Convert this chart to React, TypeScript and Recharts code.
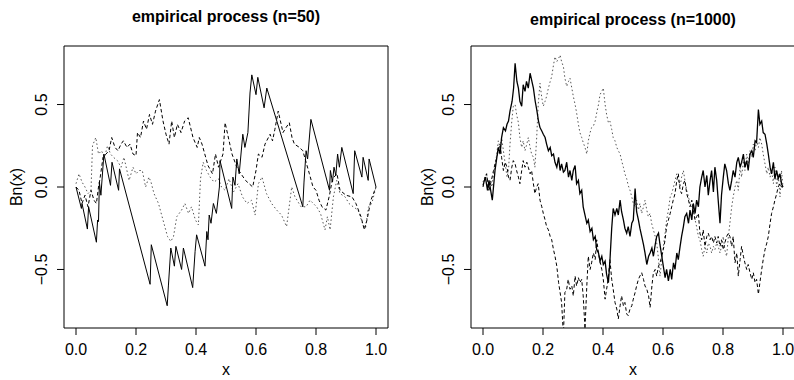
import React from "react";
import { LineChart, Line, XAxis, YAxis, ReferenceArea } from "recharts";

type Pt = [number, number];

// axis setup shared by both panels
const xTicks = [0, 0.2, 0.4, 0.6, 0.8, 1.0];
const yTicks = [-0.5, 0, 0.5];
const xDomain: [number, number] = [-0.04, 1.04];
const yDomain: [number, number] = [-0.855, 0.855];
const titles = ["empirical process (n=50)", "empirical process (n=1000)"];

// n = 50 panel
const solid50: Pt[] = [
  [0, 0], [0.018, -0.13], [0.02, -0.1], [0.038, -0.255], [0.042, -0.12], [0.068, -0.335],
  [0.072, -0.2], [0.075, -0.21], [0.078, 0.03], [0.083, -0.05], [0.093, 0.2], [0.115, 0.01],
  [0.12, 0.15], [0.142, -0.02], [0.145, 0.11], [0.247, -0.59], [0.251, -0.35], [0.304, -0.72],
  [0.308, -0.6], [0.316, -0.37], [0.328, -0.48], [0.333, -0.36], [0.352, -0.5], [0.358, -0.37],
  [0.389, -0.61], [0.397, -0.39], [0.402, -0.29], [0.43, -0.48], [0.436, -0.27], [0.44, -0.32],
  [0.444, -0.17], [0.45, -0.22], [0.458, -0.1], [0.468, -0.16], [0.478, 0.0], [0.48, 0.16],
  [0.519, -0.13], [0.523, 0.06], [0.53, 0.01], [0.536, 0.17], [0.544, 0.08], [0.556, 0.32],
  [0.563, 0.24], [0.573, 0.33], [0.58, 0.57], [0.586, 0.68], [0.6, 0.56], [0.606, 0.665],
  [0.627, 0.48], [0.636, 0.6], [0.756, -0.12], [0.76, 0.03], [0.767, 0.22], [0.772, 0.17],
  [0.783, 0.41], [0.845, -0.02], [0.848, 0.1], [0.855, 0.03], [0.86, 0.12], [0.866, 0.07],
  [0.872, 0.2], [0.878, 0.12], [0.886, 0.24], [0.924, -0.04], [0.929, 0.22], [0.953, 0.06],
  [0.957, 0.18], [0.974, 0.04], [0.977, 0.17], [1.0, 0],
];

const dashed50: Pt[] = [
  [0, 0], [0.01, -0.02], [0.02, -0.1], [0.03, -0.05], [0.04, -0.12], [0.05, -0.02],
  [0.06, -0.08], [0.068, -0.1], [0.075, 0.0], [0.08, 0.05], [0.09, 0.18], [0.1, 0.2],
  [0.11, 0.22], [0.119, 0.3], [0.13, 0.24], [0.14, 0.22], [0.15, 0.26], [0.158, 0.28],
  [0.17, 0.24], [0.18, 0.26], [0.19, 0.2], [0.2, 0.19], [0.205, 0.33], [0.215, 0.3],
  [0.225, 0.4], [0.235, 0.35], [0.245, 0.44], [0.255, 0.38], [0.265, 0.46], [0.278, 0.53],
  [0.29, 0.4], [0.3, 0.32], [0.31, 0.26], [0.319, 0.4], [0.328, 0.3], [0.338, 0.38],
  [0.35, 0.33], [0.362, 0.4], [0.374, 0.42], [0.39, 0.3], [0.404, 0.24], [0.411, 0.3],
  [0.42, 0.26], [0.44, 0.13], [0.455, 0.08], [0.465, 0.2], [0.475, 0.12], [0.49, 0.2],
  [0.497, 0.39], [0.52, 0.2], [0.536, 0.12], [0.55, 0.08], [0.565, 0.04], [0.589, 0.0],
  [0.6, 0.1], [0.608, 0.2], [0.62, 0.18], [0.63, 0.26], [0.647, 0.32], [0.655, 0.28],
  [0.663, 0.35], [0.674, 0.46], [0.69, 0.33], [0.7, 0.36], [0.711, 0.39], [0.72, 0.3],
  [0.728, 0.26], [0.745, 0.24], [0.756, 0.22], [0.767, 0.15], [0.778, 0.08], [0.79, 0.0],
  [0.8, -0.02], [0.81, -0.08], [0.82, -0.12], [0.833, -0.14], [0.845, -0.05], [0.855, 0.05],
  [0.87, 0.08], [0.88, -0.02], [0.9, -0.05], [0.92, -0.06], [0.933, -0.1], [0.95, -0.18],
  [0.961, -0.26], [0.97, -0.2], [0.983, -0.08], [1.0, 0.0],
];

const dotted50: Pt[] = [
  [0, 0.02], [0.01, 0.08], [0.02, 0.03], [0.03, 0.0], [0.04, -0.04], [0.05, -0.02],
  [0.055, 0.25], [0.066, 0.3], [0.075, 0.2], [0.085, 0.22], [0.095, 0.18], [0.105, 0.25],
  [0.115, 0.2], [0.125, 0.18], [0.138, 0.16], [0.15, 0.12], [0.16, 0.18], [0.177, 0.04],
  [0.19, 0.12], [0.2, 0.08], [0.21, 0.1], [0.221, 0.1], [0.232, 0.0], [0.243, 0.06],
  [0.25, 0.03], [0.26, -0.04], [0.275, -0.1], [0.293, -0.22], [0.305, -0.3], [0.316, -0.33],
  [0.325, -0.3], [0.336, -0.18], [0.352, -0.14], [0.363, -0.1], [0.375, -0.16], [0.385, -0.12],
  [0.398, -0.2], [0.408, -0.23], [0.415, 0.05], [0.424, 0.15], [0.435, 0.1], [0.447, 0.06],
  [0.46, 0.03], [0.475, 0.05], [0.485, 0.0], [0.497, -0.02], [0.51, 0.05], [0.525, -0.03],
  [0.54, 0.02], [0.555, -0.06], [0.57, -0.1], [0.585, -0.08], [0.597, -0.17], [0.608, 0.02],
  [0.62, 0.06], [0.635, -0.04], [0.652, -0.1], [0.669, -0.14], [0.685, -0.17], [0.702, -0.24],
  [0.719, 0.0], [0.73, -0.06], [0.75, -0.12], [0.767, -0.12], [0.78, -0.08], [0.802, -0.12],
  [0.815, -0.16], [0.83, -0.26], [0.838, -0.18], [0.847, -0.26], [0.858, -0.06], [0.869, 0.04],
  [0.88, -0.04], [0.897, -0.06], [0.91, -0.1], [0.924, -0.12], [0.94, -0.14], [0.955, -0.22],
  [0.965, -0.25], [0.975, -0.12], [0.986, -0.1], [1.0, 0.0],
];

// n = 1000 panel
const solid1000: Pt[] = [
  [0, 0.01], [0.008, 0.06], [0.015, -0.02], [0.02, 0.04], [0.031, -0.08], [0.04, 0.1],
  [0.051, 0.24], [0.057, 0.2], [0.062, 0.3], [0.068, 0.36], [0.075, 0.34], [0.08, 0.38],
  [0.085, 0.4], [0.09, 0.46], [0.097, 0.52], [0.102, 0.6], [0.107, 0.75], [0.113, 0.64],
  [0.118, 0.6], [0.123, 0.52], [0.129, 0.49], [0.134, 0.62], [0.14, 0.58], [0.145, 0.64],
  [0.151, 0.6], [0.157, 0.69], [0.163, 0.64], [0.168, 0.6], [0.174, 0.52], [0.179, 0.47],
  [0.185, 0.4], [0.19, 0.36], [0.196, 0.34], [0.201, 0.32], [0.207, 0.3], [0.212, 0.26],
  [0.218, 0.22], [0.224, 0.24], [0.229, 0.19], [0.235, 0.2], [0.24, 0.15], [0.246, 0.12],
  [0.252, 0.18], [0.257, 0.1], [0.262, 0.14], [0.268, 0.09], [0.273, 0.1], [0.279, 0.15],
  [0.285, 0.06], [0.29, 0.1], [0.296, 0.04], [0.301, 0.1], [0.307, 0.13], [0.312, 0.02],
  [0.318, 0.04], [0.323, -0.04], [0.329, -0.02], [0.334, -0.12], [0.34, -0.17], [0.346, -0.22],
  [0.351, -0.2], [0.357, -0.27], [0.363, -0.25], [0.368, -0.32], [0.374, -0.3], [0.379, -0.38],
  [0.385, -0.4], [0.39, -0.45], [0.396, -0.42], [0.401, -0.47], [0.407, -0.45], [0.412, -0.53],
  [0.418, -0.58], [0.423, -0.45], [0.429, -0.25], [0.434, -0.13], [0.44, -0.17], [0.446, -0.13],
  [0.451, -0.17], [0.457, -0.08], [0.462, -0.15], [0.468, -0.2], [0.473, -0.25], [0.479, -0.28],
  [0.484, -0.24], [0.49, -0.3], [0.496, -0.22], [0.501, -0.2], [0.507, -0.01], [0.512, -0.15],
  [0.518, -0.2], [0.523, -0.25], [0.529, -0.3], [0.535, -0.35], [0.54, -0.4], [0.546, -0.47],
  [0.552, -0.42], [0.557, -0.4], [0.563, -0.37], [0.568, -0.42], [0.574, -0.35], [0.579, -0.3],
  [0.585, -0.28], [0.59, -0.35], [0.596, -0.42], [0.601, -0.48], [0.607, -0.55], [0.612, -0.5],
  [0.618, -0.57], [0.624, -0.5], [0.629, -0.56], [0.635, -0.46], [0.64, -0.5], [0.646, -0.4],
  [0.651, -0.44], [0.657, -0.36], [0.662, -0.3], [0.668, -0.24], [0.673, -0.18], [0.679, -0.16],
  [0.685, -0.22], [0.69, -0.14], [0.696, -0.2], [0.701, -0.1], [0.707, -0.16], [0.712, -0.08],
  [0.718, -0.12], [0.723, 0.0], [0.729, 0.06], [0.734, 0.1], [0.74, 0.0], [0.746, 0.07],
  [0.751, -0.05], [0.757, 0.04], [0.762, 0.1], [0.768, -0.03], [0.773, 0.12], [0.779, 0.04],
  [0.784, -0.08], [0.79, -0.22], [0.795, -0.05], [0.801, 0.06], [0.806, 0.14], [0.812, 0.1],
  [0.818, 0.02], [0.823, -0.02], [0.829, 0.04], [0.834, 0.1], [0.84, 0.06], [0.846, 0.15],
  [0.851, 0.18], [0.857, 0.12], [0.862, 0.15], [0.868, 0.2], [0.873, 0.12], [0.879, 0.16],
  [0.884, 0.1], [0.89, 0.2], [0.896, 0.22], [0.901, 0.18], [0.907, 0.28], [0.912, 0.27],
  [0.918, 0.47], [0.923, 0.38], [0.929, 0.4], [0.934, 0.33], [0.94, 0.32], [0.946, 0.26],
  [0.951, 0.2], [0.957, 0.12], [0.962, 0.08], [0.968, 0.15], [0.973, 0.05], [0.979, 0.1],
  [0.984, 0.05], [0.99, 0.08], [0.995, 0.02], [1.0, 0.0],
];

const dashed1000: Pt[] = [
  [0, 0], [0.006, 0.05], [0.012, 0.08], [0.02, -0.02], [0.028, 0.04], [0.035, 0.1],
  [0.04, 0.14], [0.046, 0.18], [0.051, 0.22], [0.057, 0.26], [0.062, 0.18], [0.068, 0.1],
  [0.074, 0.15], [0.08, 0.12], [0.085, 0.06], [0.09, 0.04], [0.096, 0.12], [0.101, 0.16],
  [0.107, 0.14], [0.112, 0.1], [0.118, 0.06], [0.123, 0.02], [0.129, 0.1], [0.134, 0.16],
  [0.14, 0.12], [0.146, 0.15], [0.151, 0.12], [0.157, 0.08], [0.162, 0.1], [0.168, 0.02],
  [0.173, -0.04], [0.179, 0.0], [0.184, 0.02], [0.19, -0.08], [0.196, -0.12], [0.201, -0.16],
  [0.207, -0.2], [0.212, -0.24], [0.218, -0.26], [0.224, -0.3], [0.229, -0.32], [0.235, -0.38],
  [0.24, -0.42], [0.246, -0.48], [0.252, -0.58], [0.257, -0.64], [0.262, -0.7], [0.268, -0.9],
  [0.273, -0.64], [0.279, -0.62], [0.284, -0.56], [0.29, -0.62], [0.296, -0.6], [0.301, -0.66],
  [0.307, -0.54], [0.312, -0.6], [0.318, -0.55], [0.323, -0.58], [0.329, -0.56], [0.334, -0.66],
  [0.34, -0.86], [0.346, -0.6], [0.351, -0.42], [0.357, -0.5], [0.362, -0.46], [0.368, -0.4],
  [0.374, -0.44], [0.379, -0.32], [0.385, -0.4], [0.39, -0.45], [0.396, -0.5], [0.401, -0.56],
  [0.407, -0.68], [0.412, -0.62], [0.418, -0.55], [0.423, -0.44], [0.429, -0.56], [0.434, -0.62],
  [0.44, -0.7], [0.446, -0.74], [0.451, -0.8], [0.457, -0.72], [0.462, -0.66], [0.468, -0.72],
  [0.473, -0.7], [0.479, -0.77], [0.484, -0.78], [0.49, -0.74], [0.496, -0.72], [0.501, -0.68],
  [0.507, -0.64], [0.512, -0.6], [0.518, -0.56], [0.523, -0.54], [0.529, -0.52], [0.535, -0.56],
  [0.54, -0.6], [0.546, -0.62], [0.552, -0.66], [0.557, -0.73], [0.563, -0.6], [0.568, -0.52],
  [0.574, -0.5], [0.579, -0.54], [0.585, -0.48], [0.59, -0.46], [0.596, -0.42], [0.601, -0.38],
  [0.607, -0.32], [0.612, -0.24], [0.618, -0.2], [0.624, -0.16], [0.629, -0.12], [0.634, -0.08],
  [0.64, -0.04], [0.646, 0.04], [0.651, 0.08], [0.657, -0.02], [0.662, -0.04], [0.668, 0.02],
  [0.673, 0.04], [0.679, -0.04], [0.685, -0.08], [0.69, -0.12], [0.696, -0.08], [0.701, -0.14],
  [0.707, -0.2], [0.712, -0.18], [0.718, -0.16], [0.723, -0.28], [0.729, -0.32], [0.734, -0.26],
  [0.74, -0.36], [0.746, -0.3], [0.751, -0.28], [0.757, -0.32], [0.762, -0.3], [0.768, -0.34],
  [0.773, -0.3], [0.779, -0.34], [0.784, -0.3], [0.79, -0.36], [0.795, -0.32], [0.801, -0.38],
  [0.806, -0.34], [0.812, -0.3], [0.818, -0.28], [0.823, -0.3], [0.829, -0.36], [0.834, -0.3],
  [0.84, -0.46], [0.846, -0.4], [0.851, -0.54], [0.857, -0.44], [0.862, -0.36], [0.868, -0.42],
  [0.873, -0.46], [0.879, -0.5], [0.884, -0.47], [0.89, -0.52], [0.896, -0.56], [0.901, -0.52],
  [0.907, -0.58], [0.912, -0.56], [0.918, -0.65], [0.923, -0.58], [0.929, -0.5], [0.934, -0.44],
  [0.94, -0.38], [0.946, -0.34], [0.951, -0.3], [0.957, -0.22], [0.962, -0.16], [0.968, -0.12],
  [0.973, -0.08], [0.979, -0.04], [0.984, 0.0], [0.99, 0.02], [0.995, 0.0], [1.0, 0.0],
];

const dotted1000: Pt[] = [
  [0, 0.03], [0.006, 0.06], [0.012, 0.08], [0.018, -0.02], [0.024, 0.04], [0.03, 0.0],
  [0.035, 0.08], [0.04, 0.12], [0.046, 0.2], [0.051, 0.28], [0.057, 0.24], [0.062, 0.3],
  [0.068, 0.22], [0.074, 0.14], [0.08, 0.06], [0.085, 0.1], [0.09, 0.26], [0.096, 0.4],
  [0.101, 0.49], [0.107, 0.5], [0.112, 0.44], [0.118, 0.39], [0.123, 0.3], [0.129, 0.24],
  [0.134, 0.28], [0.14, 0.22], [0.146, 0.26], [0.151, 0.3], [0.157, 0.24], [0.162, 0.2],
  [0.168, 0.18], [0.173, 0.12], [0.179, 0.3], [0.184, 0.5], [0.19, 0.63], [0.196, 0.54],
  [0.201, 0.49], [0.207, 0.52], [0.212, 0.55], [0.218, 0.6], [0.224, 0.64], [0.229, 0.67],
  [0.235, 0.74], [0.24, 0.79], [0.246, 0.76], [0.252, 0.78], [0.257, 0.8], [0.262, 0.76],
  [0.268, 0.73], [0.273, 0.66], [0.279, 0.61], [0.285, 0.64], [0.29, 0.66], [0.296, 0.6],
  [0.301, 0.55], [0.307, 0.5], [0.312, 0.45], [0.318, 0.38], [0.323, 0.33], [0.329, 0.3],
  [0.334, 0.27], [0.34, 0.24], [0.346, 0.2], [0.351, 0.28], [0.357, 0.33], [0.362, 0.36],
  [0.368, 0.37], [0.374, 0.4], [0.379, 0.45], [0.385, 0.5], [0.39, 0.56], [0.396, 0.58],
  [0.401, 0.6], [0.407, 0.5], [0.412, 0.44], [0.418, 0.39], [0.423, 0.4], [0.429, 0.35],
  [0.434, 0.3], [0.44, 0.28], [0.446, 0.24], [0.451, 0.22], [0.457, 0.2], [0.462, 0.16],
  [0.468, 0.12], [0.473, 0.08], [0.479, 0.05], [0.484, 0.01], [0.49, -0.02], [0.496, -0.06],
  [0.501, -0.1], [0.507, -0.12], [0.512, -0.08], [0.518, -0.14], [0.523, -0.1], [0.529, -0.16],
  [0.535, -0.12], [0.54, -0.08], [0.546, -0.14], [0.551, -0.18], [0.557, -0.16], [0.562, -0.22],
  [0.568, -0.26], [0.574, -0.3], [0.579, -0.34], [0.584, -0.42], [0.59, -0.54], [0.596, -0.44],
  [0.601, -0.36], [0.607, -0.28], [0.612, -0.2], [0.618, -0.14], [0.624, -0.06], [0.629, -0.04],
  [0.635, 0.0], [0.64, 0.04], [0.646, 0.08], [0.651, 0.04], [0.657, 0.0], [0.662, 0.06],
  [0.668, 0.1], [0.673, 0.04], [0.679, -0.02], [0.685, -0.06], [0.69, -0.1], [0.696, -0.12],
  [0.701, -0.14], [0.707, -0.2], [0.712, -0.24], [0.718, -0.3], [0.723, -0.32], [0.729, -0.38],
  [0.734, -0.42], [0.74, -0.36], [0.746, -0.4], [0.751, -0.34], [0.757, -0.36], [0.762, -0.4],
  [0.768, -0.36], [0.773, -0.38], [0.779, -0.34], [0.784, -0.36], [0.79, -0.4], [0.795, -0.36],
  [0.801, -0.3], [0.806, -0.38], [0.812, -0.42], [0.818, -0.3], [0.823, -0.22], [0.829, -0.12],
  [0.834, -0.06], [0.84, 0.0], [0.846, 0.04], [0.851, -0.02], [0.857, 0.12], [0.862, 0.06],
  [0.868, 0.16], [0.873, 0.1], [0.879, 0.2], [0.884, 0.14], [0.89, 0.22], [0.896, 0.18],
  [0.901, 0.26], [0.907, 0.22], [0.912, 0.28], [0.918, 0.24], [0.923, 0.3], [0.929, 0.26],
  [0.934, 0.2], [0.94, 0.14], [0.946, 0.08], [0.951, 0.12], [0.957, 0.06], [0.962, 0.1],
  [0.968, 0.02], [0.973, 0.12], [0.979, 0.0], [0.984, 0.08], [0.99, -0.06], [0.995, 0.1],
  [1.0, 0.0],
];

const FONT = '"Liberation Sans", Arial, Helvetica, sans-serif';

const toRows = (pts: Pt[]) => pts.map(([x, y]) => ({ x, y }));

const fmt = (v: number) => (v < 0 ? "\u2212" + Math.abs(v).toFixed(1) : v.toFixed(1));

const XTick = ({ x, y, payload }: any) => (
  <text x={x} y={y} dy={18} textAnchor="middle" fontSize={16} fontFamily={FONT} fill="#000">
    {payload.value.toFixed(1)}
  </text>
);

const YTick = ({ x, y, payload }: any) => (
  <text
    transform={`translate(${x - 8},${y}) rotate(-90)`}
    textAnchor="middle"
    fontSize={16}
    fontFamily={FONT}
    fill="#000"
  >
    {fmt(payload.value)}
  </text>
);

interface PanelProps {
  left: number;
  marginLeft: number;
  marginRight: number;
  solid: Pt[];
  dashed: Pt[];
  dotted: Pt[];
  solidWidth?: number;
}

const Panel = ({ left, marginLeft, marginRight, solid, dashed, dotted, solidWidth = 1 }: PanelProps) => (
  <div style={{ position: "absolute", left, top: 0 }}>
    <LineChart
      width={400}
      height={380}
      margin={{ top: 46, right: marginRight, bottom: 22, left: marginLeft }}
    >
      <XAxis
        dataKey="x"
        type="number"
        domain={xDomain}
        ticks={xTicks}
        allowDataOverflow
        axisLine={false}
        tickLine={{ stroke: "#000" }}
        tickSize={7}
        height={30}
        tick={<XTick />}
        interval={0}
      />
      <YAxis
        dataKey="y"
        type="number"
        domain={yDomain}
        ticks={yTicks}
        allowDataOverflow
        axisLine={false}
        tickLine={{ stroke: "#000" }}
        tickSize={7}
        width={30}
        tick={<YTick />}
        interval={0}
      />
      {/* plot box */}
      <ReferenceArea
        x1={xDomain[0]}
        x2={xDomain[1]}
        y1={yDomain[0]}
        y2={yDomain[1]}
        fill="none"
        stroke="#000"
        strokeWidth={1}
        fillOpacity={0}
        ifOverflow="visible"
      />
      <Line
        data={toRows(dotted)}
        dataKey="y"
        type="linear"
        stroke="#555"
        strokeWidth={1}
        strokeDasharray="1.5 2.5"
        dot={false}
        isAnimationActive={false}
      />
      <Line
        data={toRows(dashed)}
        dataKey="y"
        type="linear"
        stroke="#000"
        strokeWidth={1}
        strokeDasharray="3.5 2.5"
        dot={false}
        isAnimationActive={false}
      />
      <Line
        data={toRows(solid)}
        dataKey="y"
        type="linear"
        stroke="#000"
        strokeWidth={solidWidth}
        dot={false}
        isAnimationActive={false}
      />
    </LineChart>
  </div>
);

export default function App() {
  return (
    <div
      style={{
        position: "absolute",
        left: 0,
        top: 0,
        width: 794,
        height: 380,
        overflow: "hidden",
        background: "#fff",
      }}
    >
      <Panel left={0} marginLeft={34} marginRight={12} solid={solid50} dashed={dashed50} dotted={dotted50} />
      <Panel
        left={400}
        marginLeft={41}
        marginRight={5}
        solid={solid1000}
        dashed={dashed1000}
        dotted={dotted1000}
        solidWidth={1.3}
      />
      <svg
        width={794}
        height={380}
        style={{ position: "absolute", left: 0, top: 0, pointerEvents: "none" }}
        fontFamily={FONT}
      >
        <text x={226} y={22} textAnchor="middle" fontSize={16} fontWeight="bold">
          {titles[0]}
        </text>
        <text x={633} y={25} textAnchor="middle" fontSize={16} fontWeight="bold">
          {titles[1]}
        </text>
        <text x={226} y={375} textAnchor="middle" fontSize={16}>x</text>
        <text x={633} y={375} textAnchor="middle" fontSize={16}>x</text>
        <text transform="translate(22,187) rotate(-90)" textAnchor="middle" fontSize={16}>Bn(x)</text>
        <text transform="translate(433,187) rotate(-90)" textAnchor="middle" fontSize={16}>Bn(x)</text>
      </svg>
    </div>
  );
}
